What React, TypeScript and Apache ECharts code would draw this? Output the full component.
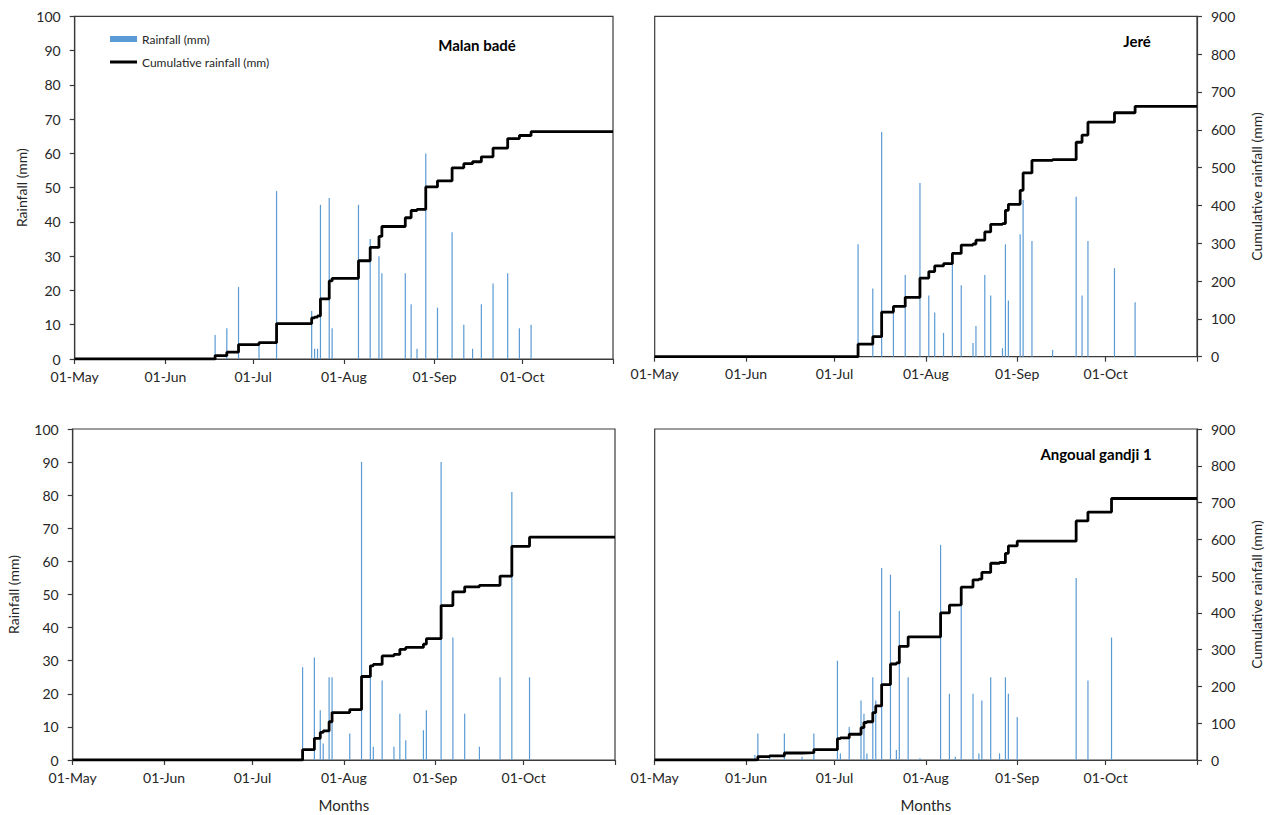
import React, { useEffect, useRef } from 'react';
import * as echarts from 'echarts';

// x axis: one category per day, 01-May .. 01-Nov
const monthNames = ['May', 'Jun', 'Jul', 'Aug', 'Sep', 'Oct'];
const monthLengths = [31, 30, 31, 31, 30, 31];
const dayLabels: string[] = [];
monthNames.forEach((m, i) => {
  for (let d = 1; d <= monthLengths[i]; d++) dayLabels.push(`${String(d).padStart(2, '0')}-${m}`);
});
dayLabels.push('01-Nov');

// Malan badé
const malanDays = ['18-Jun', '22-Jun', '26-Jun', '03-Jul', '09-Jul', '21-Jul', '22-Jul', '23-Jul', '24-Jul', '27-Jul', '28-Jul', '06-Aug', '10-Aug', '13-Aug', '14-Aug', '22-Aug', '24-Aug', '26-Aug', '29-Aug', '02-Sep', '07-Sep', '11-Sep', '14-Sep', '17-Sep', '21-Sep', '26-Sep', '30-Sep', '04-Oct'];
const malanRain = [7, 9, 21, 5, 49, 14, 3, 3, 45, 47, 9, 45, 35, 30, 25, 25, 16, 3, 60, 15, 37, 10, 3, 16, 22, 25, 9, 10];
const malanCum = [9, 18, 38, 43, 93, 108, 110, 113, 158, 205, 212, 258, 293, 322, 348, 371, 390, 393, 452, 468, 502, 513, 518, 531, 554, 579, 587, 597];

// Jeré
const jereDays = ['09-Jul', '14-Jul', '17-Jul', '21-Jul', '25-Jul', '30-Jul', '02-Aug', '04-Aug', '07-Aug', '10-Aug', '13-Aug', '17-Aug', '18-Aug', '21-Aug', '23-Aug', '27-Aug', '28-Aug', '29-Aug', '02-Sep', '03-Sep', '06-Sep', '13-Sep', '21-Sep', '23-Sep', '25-Sep', '04-Oct', '11-Oct'];
const jereRain = [33, 20, 66, 14, 24, 51, 18, 13, 7, 27, 21, 4, 9, 24, 18, 2.5, 33, 16.5, 36, 46, 34, 2, 47, 18, 34, 26, 16];
const jereCum = [33, 53, 118, 133, 157, 208, 225, 240, 246, 273, 295, 298, 308, 330, 350, 352, 387, 403, 440, 486, 519, 521, 567, 586, 620, 645, 662];

// bottom-left station (no name in the figure)
const site3Days = ['18-Jul', '22-Jul', '24-Jul', '25-Jul', '27-Jul', '28-Jul', '03-Aug', '07-Aug', '10-Aug', '11-Aug', '14-Aug', '18-Aug', '20-Aug', '22-Aug', '28-Aug', '29-Aug', '03-Sep', '07-Sep', '11-Sep', '16-Sep', '23-Sep', '27-Sep', '03-Oct'];
const site3Rain = [28, 31, 15, 5, 25, 25, 8, 90, 26, 4, 24, 4, 14, 6, 9, 15, 90, 37, 14, 4, 25, 81, 25];
const site3Cum = [28, 59, 75, 79, 104, 129, 137, 227, 256, 260, 283, 287, 301, 306, 315, 330, 420, 457, 471, 475, 500, 581, 606];

// Angoual gandji 1
const angoualDays = ['04-Jun', '05-Jun', '09-Jun', '14-Jun', '20-Jun', '24-Jun', '02-Jul', '03-Jul', '06-Jul', '10-Jul', '11-Jul', '12-Jul', '14-Jul', '15-Jul', '17-Jul', '20-Jul', '22-Jul', '23-Jul', '26-Jul', '30-Jul', '06-Aug', '09-Aug', '11-Aug', '13-Aug', '17-Aug', '19-Aug', '20-Aug', '23-Aug', '26-Aug', '28-Aug', '29-Aug', '01-Sep', '21-Sep', '25-Sep', '03-Oct'];
const angoualRain = [1.5, 8, 1, 8, 1, 8, 30, 2, 10, 18, 14, 2, 25, 18, 58, 56, 3, 45, 25, 0.5, 65, 20, 1, 48, 20, 2, 18, 25, 2, 25, 20, 13, 55, 24, 37];
const angoualCum = [1, 9, 11, 19, 20, 28, 58, 60, 70, 88, 102, 104, 129, 147, 205, 261, 264, 309, 335, 335, 400, 421, 422, 470, 490, 492, 510, 535, 537, 562, 582, 595, 650, 674, 711];

const FONT = 'Lato, "Noto Sans", sans-serif';
const INK = '#262626';
const AXIS = '#3a3a3a';
const BLUE = '#5B9BD5';

const panels = [
  { days: malanDays, rain: malanRain, cum: malanCum, side: 'left', months: false, nameGap: 46, grid: { left: 74.7, top: 16.3, width: 538.3, height: 342.7 } },
  { days: jereDays, rain: jereRain, cum: jereCum, side: 'right', months: false, nameGap: 52, grid: { left: 654.7, top: 16.3, width: 542.3, height: 340.4 } },
  { days: site3Days, rain: site3Rain, cum: site3Cum, side: 'left', months: true, nameGap: 52, grid: { left: 72.7, top: 429, width: 542.3, height: 331 } },
  { days: angoualDays, rain: angoualRain, cum: angoualCum, side: 'right', months: true, nameGap: 52, grid: { left: 654.7, top: 429, width: 542.3, height: 331 } },
];

const isMonthStart = (_i: number, v: string) => v.startsWith('01-');
const showMonthLabel = (_i: number, v: string) => v.startsWith('01-') && v !== '01-Nov';

export default function App() {
  const chartRef = useRef<HTMLDivElement>(null);

  useEffect(() => {
    if (!chartRef.current) return;
    const chart = echarts.init(chartRef.current, null, { renderer: 'svg' });

    const axisLine = { show: true, lineStyle: { color: AXIS, width: 1.2 } };
    const axisTick = { show: true, length: 5, lineStyle: { color: AXIS, width: 1.2 } };
    const label = { color: INK, fontSize: 14, fontFamily: FONT };

    const grid = panels.map((p) => ({
      ...p.grid,
      show: true,
      borderColor: AXIS,
      borderWidth: 1.2,
      containLabel: false,
      outerBoundsMode: 'none',
    }));

    const xAxis = panels.map((p, i) => ({
      type: 'category',
      gridIndex: i,
      data: dayLabels,
      boundaryGap: false,
      axisLine,
      axisTick: { ...axisTick, interval: isMonthStart },
      axisLabel: { ...label, interval: showMonthLabel, margin: 10 },
      splitLine: { show: false },
      name: p.months ? 'Months' : '',
      nameLocation: 'middle',
      nameGap: 37,
      nameTextStyle: { ...label, fontSize: 15 },
    }));

    const yAxis: any[] = [];
    panels.forEach((p, i) => {
      yAxis.push({
        type: 'value',
        gridIndex: i,
        position: 'left',
        min: 0,
        max: 100,
        interval: 10,
        show: p.side === 'left',
        axisLine,
        axisTick,
        axisLabel: { ...label, margin: 14 },
        splitLine: { show: false },
        name: 'Rainfall (mm)',
        nameLocation: 'middle',
        nameGap: p.nameGap,
        nameTextStyle: label,
      });
      yAxis.push({
        type: 'value',
        gridIndex: i,
        position: 'right',
        min: 0,
        max: 900,
        interval: 100,
        show: p.side === 'right',
        axisLine,
        axisTick,
        axisLabel: { ...label, margin: 14 },
        splitLine: { show: false },
        name: 'Cumulative rainfall (mm)',
        nameLocation: 'middle',
        nameGap: p.nameGap,
        nameTextStyle: label,
      });
    });

    const series: any[] = [];
    panels.forEach((p, i) => {
      series.push({
        type: 'bar',
        name: 'Rainfall (mm)',
        xAxisIndex: i,
        yAxisIndex: 2 * i,
        data: p.days.map((d, k) => [d, p.rain[k]]),
        barWidth: 1.2,
        itemStyle: { color: BLUE },
        z: 2,
      });
      series.push({
        type: 'line',
        name: 'Cumulative rainfall (mm)',
        xAxisIndex: i,
        yAxisIndex: 2 * i + 1,
        data: [['01-May', 0], ...p.days.map((d, k) => [d, p.cum[k]]), ['01-Nov', p.cum[p.cum.length - 1]]],
        step: 'end',
        symbol: 'none',
        lineStyle: { color: '#000', width: 2.8 },
        itemStyle: { color: '#000' },
        z: 3,
      });
    });

    const stationTitle = (text: string, x: number, y: number) => ({
      type: 'text',
      x,
      y,
      style: { text, fill: '#000', font: `bold 15px ${FONT}`, textAlign: 'center', textVerticalAlign: 'middle' },
    });

    chart.setOption({
      animation: false,
      grid,
      xAxis,
      yAxis,
      series,
      legend: {
        left: 110,
        top: 33,
        orient: 'vertical',
        padding: 0,
        itemWidth: 27,
        itemHeight: 6,
        itemGap: 11,
        selectedMode: false,
        symbolKeepAspect: true,
        textStyle: { color: INK, fontSize: 12, fontFamily: FONT },
        data: [
          { name: 'Rainfall (mm)', icon: 'rect' },
          { name: 'Cumulative rainfall (mm)', icon: 'path://M0,0L27,0L27,3L0,3Z', itemStyle: { color: '#000' } },
        ],
      },
      graphic: [
        stationTitle('Malan badé', 477, 45),
        stationTitle('Jeré', 1137, 41),
        stationTitle('Angoual gandji 1', 1096, 454),
      ],
    });

    return () => chart.dispose();
  }, []);

  return (
    <div
      ref={chartRef}
      style={{ position: 'absolute', left: 0, top: 0, width: 1278, height: 815, background: '#fff' }}
    />
  );
}
